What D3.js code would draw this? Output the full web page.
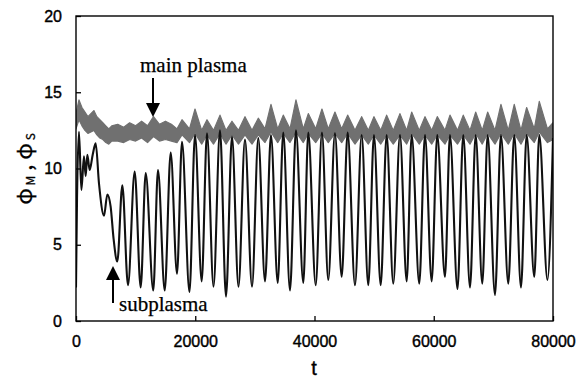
<!DOCTYPE html>
<html>
<head>
<meta charset="utf-8">
<script src="https://cdn.jsdelivr.net/npm/d3@7"></script>
<style>
  body { margin: 0; background: #fff; }
  svg { display: block; }
</style>
</head>
<body>
<div id="chart"></div>
<script>
// subplasma potential (black), extrema
const subT = [0, 170, 500, 900, 1340, 1620, 1900, 2290, 2800, 3300, 3860, 4700, 5250, 5810, 6300, 6930,
  7770, 8720, 9840, 10850, 11690, 12960, 13750, 14880, 15880, 16940, 17780, 19030, 19960, 21080,
  21970, 23060, 24150, 25160, 26160, 27250, 28340, 29520, 30570, 31700, 32700, 33830, 34760, 35890,
  36890, 38120, 38960, 40200, 41250, 42310, 43430, 44560, 45560, 46790, 47910, 49020, 49970, 51100,
  52100, 53210, 54330, 55460, 56300, 57570, 58530, 59650, 60590, 61880, 62720, 63980, 64950, 66080,
  67030, 68140, 69040, 70270, 71270, 72500, 73500, 74630, 75580, 76860, 77700, 79070, 80000];
const subV = [2.2, 8.0, 12.4, 8.6, 10.8, 9.5, 10.9, 9.9, 10.9, 11.65, 9.0, 6.9, 8.3, 7.5, 5.4, 3.9,
  8.9, 2.35, 9.8, 2.2, 9.7, 2.0, 9.9, 2.0, 11.05, 3.1, 11.75, 1.9, 12.2, 2.6,
  12.3, 2.25, 12.5, 1.6, 12.1, 2.25, 11.9, 2.25, 12.0, 2.6, 12.2, 2.5, 12.35, 2.0,
  12.5, 2.5, 12.35, 2.35, 12.35, 2.7, 12.3, 2.9, 12.35, 2.35, 12.2, 2.35, 12.2, 2.35,
  12.2, 2.45, 12.2, 2.6, 12.2, 2.45, 12.2, 2.6, 12.2, 2.9, 12.2, 2.1, 12.2, 2.2,
  12.2, 2.45, 12.2, 1.7, 12.2, 2.45, 12.2, 2.2, 12.2, 2.9, 12.2, 2.7, 12.0];

// main plasma potential (grey), drawn as a noisy band: upper / lower edge
const mainT = [0, 500, 1000, 1500, 2000, 2500, 3000, 3500, 4000, 4500, 5000, 5500, 6000, 7000, 8000,
  9000, 10000, 11000, 12000, 13000, 14000, 15000, 16000, 16940, 17780, 19030, 19960, 21080, 21970,
  23060, 24150, 25160, 26160, 27250, 28340, 29520, 30570, 31700, 32700, 33830, 34760, 35890, 36890,
  38120, 38960, 40200, 41250, 42310, 43430, 44560, 45560, 46790, 47910, 49020, 49970, 51100, 52100,
  53210, 54330, 55460, 56300, 57570, 58530, 59650, 60590, 61880, 62720, 63980, 64950, 66080, 67030,
  68140, 69040, 70270, 71270, 72500, 73500, 74630, 75580, 76860, 77700, 79070, 80000];
const mainHi = [13.6, 14.5, 14.0, 13.7, 13.4, 13.6, 13.8, 13.4, 13.2, 13.0, 12.8, 12.6, 12.8, 12.9, 12.7,
  13.0, 12.8, 13.1, 12.8, 13.4, 12.9, 13.1, 12.9, 12.6, 13.2, 12.6, 13.9, 12.5, 13.2,
  12.5, 13.5, 12.5, 13.1, 12.5, 13.4, 12.5, 13.3, 12.6, 14.2, 12.6, 13.5, 12.6, 14.5,
  12.6, 13.6, 12.6, 13.9, 12.6, 13.7, 12.6, 13.5, 12.5, 13.4, 12.5, 13.4, 12.5, 13.5,
  12.5, 13.6, 12.5, 13.7, 12.5, 13.4, 12.5, 13.4, 12.5, 13.5, 12.5, 13.5, 12.5, 13.7,
  12.5, 13.7, 12.5, 14.2, 12.5, 14.2, 12.5, 14.0, 12.6, 14.4, 12.6, 13.0];
const mainLo = [12.6, 13.2, 12.8, 12.5, 12.3, 12.4, 12.5, 12.2, 12.0, 11.9, 11.7, 11.6, 11.8, 11.8, 11.7,
  11.9, 11.8, 12.0, 11.7, 12.1, 11.8, 11.9, 11.8, 11.7, 12.2, 11.7, 12.3, 11.6, 12.2,
  11.6, 12.3, 11.6, 12.2, 11.6, 12.2, 11.6, 12.2, 11.7, 12.4, 11.7, 12.3, 11.7, 12.4,
  11.7, 12.3, 11.7, 12.3, 11.7, 12.3, 11.7, 12.3, 11.6, 12.2, 11.6, 12.2, 11.6, 12.2,
  11.6, 12.2, 11.6, 12.3, 11.6, 12.2, 11.6, 12.2, 11.6, 12.2, 11.6, 12.2, 11.6, 12.3,
  11.6, 12.3, 11.6, 12.3, 11.6, 12.3, 11.6, 12.3, 11.7, 12.4, 11.7, 11.9];

const xTicks = [0, 20000, 40000, 60000, 80000];
const yTicks = [0, 5, 10, 15, 20];

const width = 584, height = 380;
const margin = { left: 76, right: 553, top: 16, bottom: 321 };

const svg = d3.select("#chart").append("svg")
  .attr("width", width)
  .attr("height", height);

const x = d3.scaleLinear().domain([0, 80000]).range([margin.left, margin.right]);
const y = d3.scaleLinear().domain([0, 20]).range([margin.bottom, margin.top]);

svg.append("defs").append("clipPath").attr("id", "plot")
  .append("rect").attr("x", margin.left).attr("y", margin.top)
  .attr("width", margin.right - margin.left).attr("height", margin.bottom - margin.top);

// grey band for main plasma
const mainData = mainT.map((t, i) => ({ t, hi: mainHi[i], lo: mainLo[i] }));
svg.append("path")
  .datum(mainData)
  .attr("clip-path", "url(#plot)")
  .attr("fill", "#707070")
  .attr("stroke", "#707070")
  .attr("stroke-width", 1.2)
  .attr("stroke-linejoin", "round")
  .attr("d", d3.area().x(d => x(d.t)).y0(d => y(d.lo)).y1(d => y(d.hi)));

// black line for subplasma
const subData = subT.map((t, i) => ({ t, v: subV[i] }));
svg.append("path")
  .datum(subData)
  .attr("clip-path", "url(#plot)")
  .attr("fill", "none")
  .attr("stroke", "#111")
  .attr("stroke-width", 2.1)
  .attr("stroke-linejoin", "round")
  .attr("d", d3.line().x(d => x(d.t)).y(d => y(d.v)).curve(d3.curveMonotoneX));

// axes
const tickFont = "16px 'Liberation Sans', Arial, sans-serif";

const xAxis = svg.append("g")
  .attr("transform", `translate(0,${margin.bottom})`)
  .call(d3.axisBottom(x).tickValues(xTicks).tickSize(-5).tickSizeOuter(0).tickPadding(15).tickFormat(d3.format("d")));
const yAxis = svg.append("g")
  .attr("transform", `translate(${margin.left},0)`)
  .call(d3.axisLeft(y).tickValues(yTicks).tickSize(-5).tickSizeOuter(0).tickPadding(14));

[xAxis, yAxis].forEach(g => {
  g.select(".domain").remove();
  g.selectAll(".tick line").attr("stroke", "#000").attr("stroke-width", 1.3);
  g.selectAll(".tick text")
    .attr("fill", "#000")
    .attr("stroke", "#000").attr("stroke-width", 0.4)
    .style("font", tickFont);
});

svg.append("rect")
  .attr("x", margin.left).attr("y", margin.top)
  .attr("width", margin.right - margin.left).attr("height", margin.bottom - margin.top)
  .attr("fill", "none").attr("stroke", "#000").attr("stroke-width", 1.4);

// axis titles
svg.append("text")
  .attr("x", 314).attr("y", 375)
  .attr("text-anchor", "middle")
  .attr("stroke", "#000").attr("stroke-width", 0.4)
  .style("font", "20px 'Liberation Sans', Arial, sans-serif")
  .text("t");

const yLab = svg.append("text")
  .attr("transform", "translate(32,169) rotate(-90)")
  .attr("text-anchor", "middle")
  .attr("stroke", "#000").attr("stroke-width", 0.3)
  .style("font-family", "'Noto Sans CJK JP', sans-serif")
  .style("font-size", "22px");
yLab.append("tspan").text("φ");
yLab.append("tspan").attr("dy", 3).style("font-size", "12px").text(" M");
yLab.append("tspan").attr("dy", -3).text(" , ");
yLab.append("tspan").text("φ");
yLab.append("tspan").attr("dy", 3).style("font-size", "12px").text(" S");

// annotations
const annFont = "21px 'Liberation Serif', 'Times New Roman', serif";

svg.append("text")
  .attr("x", 140).attr("y", 72)
  .attr("stroke", "#000").attr("stroke-width", 0.25)
  .style("font", annFont)
  .text("main plasma");

svg.append("text")
  .attr("x", 119).attr("y", 311)
  .attr("stroke", "#000").attr("stroke-width", 0.25)
  .style("font", annFont)
  .text("subplasma");

function arrow(xp, yTail, yTip) {
  const dir = yTip > yTail ? 1 : -1;
  const headLen = 14, headHalf = 7;
  svg.append("line")
    .attr("x1", xp).attr("x2", xp)
    .attr("y1", yTail).attr("y2", yTip - dir * headLen)
    .attr("stroke", "#000").attr("stroke-width", 2);
  svg.append("path")
    .attr("d", `M${xp - headHalf},${yTip - dir * headLen} L${xp + headHalf},${yTip - dir * headLen} L${xp},${yTip} Z`)
    .attr("fill", "#000");
}
arrow(153, 78, 117);
arrow(113, 303, 266);
</script>
</body>
</html>
